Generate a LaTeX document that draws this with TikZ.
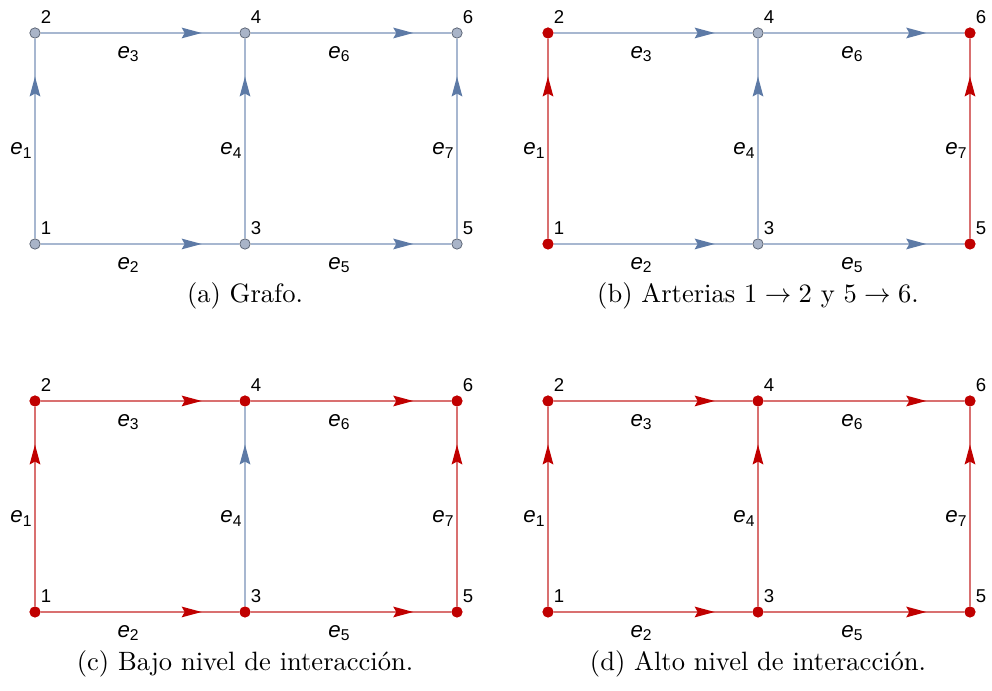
\documentclass[tikz,border=0pt]{standalone}
\usepackage{fontspec}
\newfontfamily\arial{Liberation Sans}
\usetikzlibrary{arrows.meta,decorations.markings}
\definecolor{azul}{HTML}{5D7AA6}
\definecolor{azulclaro}{HTML}{A7B7D0}
\definecolor{rojo}{HTML}{C00000}
\definecolor{rojoclaro}{HTML}{D97070}
\definecolor{gris}{HTML}{A9B4C8}
\definecolor{grisborde}{HTML}{5F6878}
\colorlet{rojoborde}{rojo}
\newcommand{\elab}[1]{{\itshape e}\raisebox{-1.4pt}{\fontsize{5.9}{6}\selectfont #1}}
% #1 prefijo, #2 origen, #3 vertices, #4 aristas, #5 pie
\newcommand{\grafo}[5]{%
\begin{scope}[shift={#2}]
  \coordinate (#1p1) at (0,0);
  \coordinate (#1p2) at (0,211);
  \coordinate (#1p3) at (210,0);
  \coordinate (#1p4) at (210,211);
  \coordinate (#1p5) at (422,0);
  \coordinate (#1p6) at (422,211);
  \foreach \n/\col in {#3}
    \node[vtx=\col] (#1\n) at (#1p\n) {};
  \foreach \n in {1,...,6}
    \node[vnum] at ([shift={(11,16)}]#1\n) {\n};
  \foreach \desde/\hasta/\k/\lado/\col in {#4}
    \draw[arista=\col] (#1\desde) -- node[\lado] {\elab{\k}} (#1\hasta);
  \node[pie] (#1pie) at (210,-52) {#5};
\end{scope}}

\begin{document}
\begin{tikzpicture}[x=0.377pt, y=0.377pt,
  vtx/.style={circle, inner sep=0pt, minimum size=3.9pt, fill=#1, draw=#1borde, line width=0.3pt},
  vnum/.style={font=\arial\fontsize{7}{8}\selectfont, inner sep=0pt},
  hlab/.style={pos=0.44, below=4.7pt, inner sep=0pt, font=\arial\fontsize{8.4}{9}\selectfont},
  vlab/.style={pos=0.44, left=1pt, inner sep=0pt, font=\arial\fontsize{8.4}{9}\selectfont},
  pie/.style={font=\normalsize},
  arista/.style={draw=#1claro, line width=0.57pt, postaction={decorate},
    decoration={markings, mark=at position 0.81 with {\arrow{Stealth[length=7.5pt,width=4pt,inset=1.1pt,color=#1]}}}}]
\useasboundingbox (0,0) rectangle (992,691);

\grafo{a}{(35,447)}{1/gris,2/gris,3/gris,4/gris,5/gris,6/gris}
  {1/2/1/vlab/azul, 1/3/2/hlab/azul, 2/4/3/hlab/azul, 3/4/4/vlab/azul,
   3/5/5/hlab/azul, 4/6/6/hlab/azul, 5/6/7/vlab/azul}
  {(a) Grafo.}

\grafo{b}{(548,447)}{1/rojo,2/rojo,3/gris,4/gris,5/rojo,6/rojo}
  {1/2/1/vlab/rojo, 1/3/2/hlab/azul, 2/4/3/hlab/azul, 3/4/4/vlab/azul,
   3/5/5/hlab/azul, 4/6/6/hlab/azul, 5/6/7/vlab/rojo}
  {(b) Arterias $1 \to 2$ y $5 \to 6$.}

\grafo{c}{(35,79)}{1/rojo,2/rojo,3/rojo,4/rojo,5/rojo,6/rojo}
  {1/2/1/vlab/rojo, 1/3/2/hlab/rojo, 2/4/3/hlab/rojo, 3/4/4/vlab/azul,
   3/5/5/hlab/rojo, 4/6/6/hlab/rojo, 5/6/7/vlab/rojo}
  {(c) Bajo nivel de interacción.}

\grafo{d}{(548,79)}{1/rojo,2/rojo,3/rojo,4/rojo,5/rojo,6/rojo}
  {1/2/1/vlab/rojo, 1/3/2/hlab/rojo, 2/4/3/hlab/rojo, 3/4/4/vlab/rojo,
   3/5/5/hlab/rojo, 4/6/6/hlab/rojo, 5/6/7/vlab/rojo}
  {(d) Alto nivel de interacción.}
\end{tikzpicture}
\end{document}
